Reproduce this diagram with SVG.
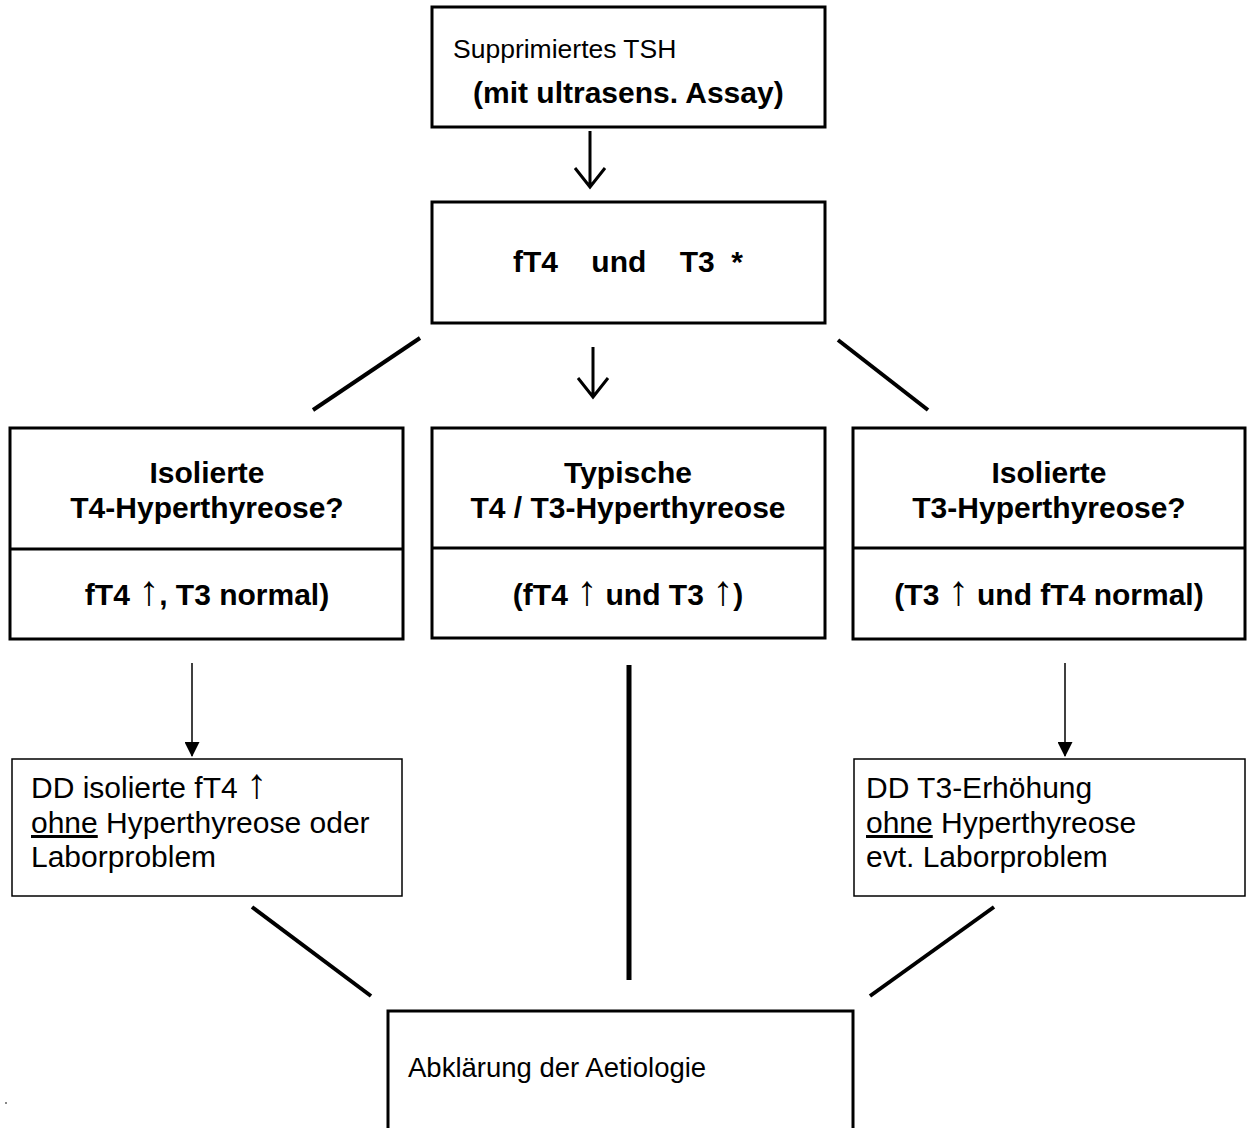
<svg xmlns="http://www.w3.org/2000/svg" width="1248" height="1128" viewBox="0 0 1248 1128">
<defs>
<style>
.box{fill:#fff;stroke:#000;stroke-width:3}
.thin{fill:#fff;stroke:#000;stroke-width:1.5}
.div{stroke:#000;stroke-width:3}
.ln{stroke:#000;stroke-width:4;fill:none;stroke-linecap:butt}
.arr{stroke:#000;stroke-width:3;fill:none}
.tarr{stroke:#000;stroke-width:1.5}
.b{font-family:"Liberation Sans",Arial,sans-serif;font-weight:bold;font-size:30px;fill:#000}
.r{font-family:"Liberation Sans",Arial,sans-serif;font-size:26.5px;fill:#000}
.dd{font-family:"Liberation Sans",Arial,sans-serif;font-size:30px;fill:#000}
.ab{font-family:"Liberation Sans",Arial,sans-serif;font-size:27.5px;fill:#000}
.up{font-weight:normal;font-size:42px}
</style>
<marker id="tri" markerWidth="15" markerHeight="15" refX="14" refY="7.5" orient="auto" markerUnits="userSpaceOnUse">
<path d="M0,0 L15,7.5 L0,15 Z" fill="#000"/>
</marker>
</defs>
<rect width="1248" height="1128" fill="#fff"/>

<g id="connectors">
<path class="arr" d="M590,131 V187 M575,168 L590,187 L605,168"/>
<line class="ln" x1="420" y1="338" x2="313" y2="410"/>
<line class="ln" x1="838" y1="340" x2="928" y2="410"/>
<path class="arr" d="M593,347 V397 M578,378 L593,397 L608,378"/>
<line class="tarr" x1="192" y1="663" x2="192" y2="756" marker-end="url(#tri)"/>
<line class="tarr" x1="1065" y1="663" x2="1065" y2="756" marker-end="url(#tri)"/>
<line x1="629" y1="665" x2="629" y2="980" stroke="#000" stroke-width="5"/>
<line class="ln" x1="252" y1="907" x2="371" y2="996"/>
<line class="ln" x1="994" y1="907" x2="870" y2="996"/>
</g>

<g id="n-tsh">
<rect class="box" x="432" y="7" width="393" height="120"/>
<text class="r" x="453" y="58">Supprimiertes TSH</text>
<text class="b" x="473" y="103">(mit ultrasens. Assay)</text>
</g>

<g id="n-ft4t3">
<rect class="box" x="432" y="202" width="393" height="121"/>
<text class="b" x="513" y="272" xml:space="preserve">fT4    und    T3  *</text>
</g>

<g id="n-t4">
<rect class="box" x="10" y="428" width="393" height="211"/>
<line class="div" x1="10" y1="549" x2="403" y2="549"/>
<text class="b" x="207" y="483" text-anchor="middle">Isolierte</text>
<text class="b" x="207" y="518" text-anchor="middle">T4-Hyperthyreose?</text>
<text class="b" x="207" y="605" text-anchor="middle">fT4 <tspan class="up">↑</tspan>, T3 normal)</text>
</g>

<g id="n-typ">
<rect class="box" x="432" y="428" width="393" height="210"/>
<line class="div" x1="432" y1="548" x2="825" y2="548"/>
<text class="b" x="628" y="483" text-anchor="middle">Typische</text>
<text class="b" x="628" y="518" text-anchor="middle">T4 / T3-Hyperthyreose</text>
<text class="b" x="628" y="605" text-anchor="middle">(fT4 <tspan class="up">↑</tspan> und T3 <tspan class="up">↑</tspan>)</text>
</g>

<g id="n-t3">
<rect class="box" x="853" y="428" width="392" height="211"/>
<line class="div" x1="853" y1="548" x2="1245" y2="548"/>
<text class="b" x="1049" y="483" text-anchor="middle">Isolierte</text>
<text class="b" x="1049" y="518" text-anchor="middle">T3-Hyperthyreose?</text>
<text class="b" x="1049" y="605" text-anchor="middle">(T3 <tspan class="up">↑</tspan> und fT4 normal)</text>
</g>

<g id="n-dd-ft4">
<rect class="thin" x="12" y="759" width="390" height="137"/>
<text class="dd" x="31" y="798">DD isolierte fT4 <tspan class="up">↑</tspan></text>
<text class="dd" x="31" y="833"><tspan text-decoration="underline">ohne</tspan> Hyperthyreose oder</text>
<text class="dd" x="31" y="867">Laborproblem</text>
</g>

<g id="n-dd-t3">
<rect class="thin" x="854" y="759" width="391" height="137"/>
<text class="dd" x="866" y="798">DD T3-Erhöhung</text>
<text class="dd" x="866" y="833"><tspan text-decoration="underline">ohne</tspan> Hyperthyreose</text>
<text class="dd" x="866" y="867">evt. Laborproblem</text>
</g>

<g id="n-aet">
<rect class="box" x="388" y="1011" width="465" height="140"/>
<text class="ab" x="408" y="1077">Abklärung der Aetiologie</text>
</g>

<rect x="5" y="1102" width="2" height="2" fill="#888"/>
</svg>
